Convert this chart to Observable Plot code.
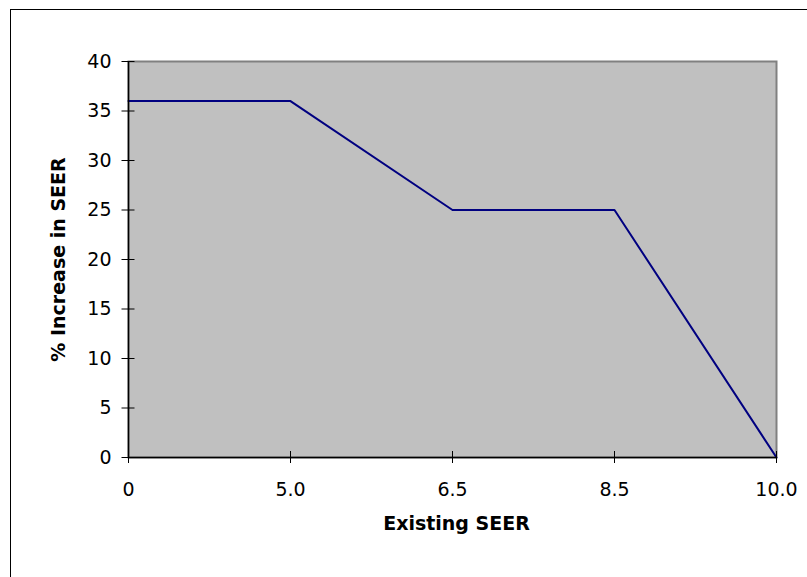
<!DOCTYPE html>
<html><head><meta charset="utf-8">
<script src="https://cdn.jsdelivr.net/npm/d3@7"></script>
<script src="https://cdn.jsdelivr.net/npm/@observablehq/plot@0.6"></script>
<style>
body{margin:0;background:#fff;}
#wrap{position:relative;width:807px;height:577px;overflow:hidden;}
#border{position:absolute;left:10px;top:9px;width:900px;height:700px;border-left:1.5px solid #000;border-top:1.5px solid #000;}
#wrap svg{position:absolute;left:0;top:0;}
</style></head><body><div id="wrap"><div id="border"></div></div>
<script>
const categories = ["0", "5.0", "6.5", "8.5", "10.0"];
const increase = [36, 36, 25, 25, 0];
const yTicks = [0, 5, 10, 15, 20, 25, 30, 35, 40];
const xTitle = "Existing SEER";
const yTitle = "% Increase in SEER";

const data = categories.map((c, i) => ({seer: c, pct: increase[i]}));

const chart = Plot.plot({
  width: 807, height: 577,
  marginLeft: 128, marginRight: 31, marginTop: 61, marginBottom: 120,
  style: {fontFamily: "DejaVu Sans", fontSize: "19px", background: "transparent", overflow: "visible", color: "#000"},
  x: {type: "point", domain: categories, padding: 0},
  y: {domain: [0, 40]},
  marks: [
    Plot.frame({fill: "#c0c0c0", stroke: "#808080", strokeWidth: 2}),
    Plot.line(data, {x: "seer", y: "pct", stroke: "#000080", strokeWidth: 2}),
    Plot.ruleX([categories[0]], {stroke: "#000", strokeWidth: 1.5}),
    Plot.ruleY([0], {stroke: "#000", strokeWidth: 1.5}),
    Plot.axisY({ticks: yTicks, tickSize: 13, dx: 6.5, text: null, label: null, stroke: "#000"}),
    Plot.axisY({ticks: yTicks, tickSize: 0, tickPadding: 17, label: null, fill: "#000"}),
    Plot.axisX({tickSize: 12, dy: -6, text: null, label: null, stroke: "#000"}),
    Plot.axisX({tickSize: 0, tickPadding: 25, label: null, fill: "#000"}),
    Plot.text([xTitle], {text: d => d, frameAnchor: "bottom", textAnchor: "middle", dx: 4, dy: 72, fontWeight: "bold", fill: "#000"}),
    Plot.text([yTitle], {text: d => d, frameAnchor: "left", textAnchor: "middle", dx: -70, rotate: -90, fontWeight: "bold", fill: "#000"})
  ]
});
document.getElementById("wrap").appendChild(chart);
</script>
</body></html>
